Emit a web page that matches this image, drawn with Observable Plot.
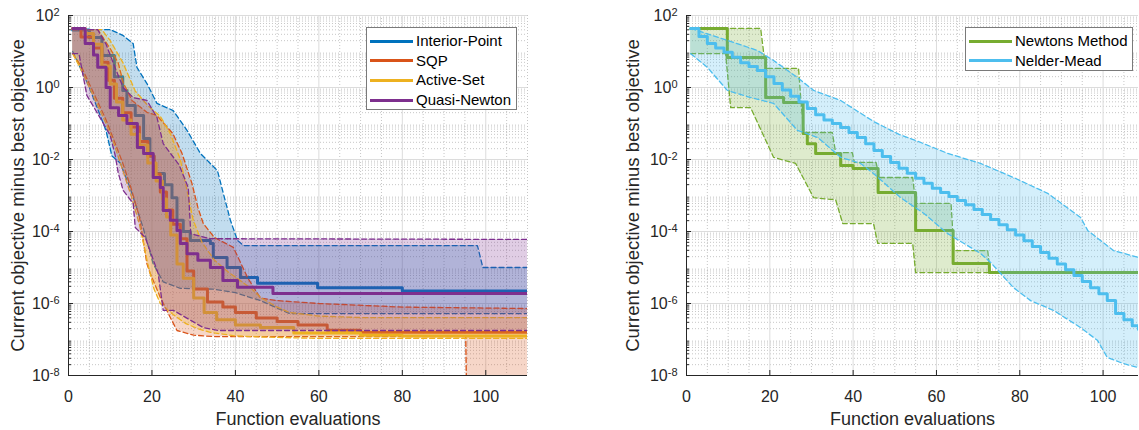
<!DOCTYPE html>
<html><head><meta charset="utf-8">
<script src="https://cdn.jsdelivr.net/npm/d3@7"></script>
<script src="https://cdn.jsdelivr.net/npm/@observablehq/plot@0.6"></script>
<style>
body{margin:0;background:#fff;font-family:"Liberation Sans",Arial,sans-serif;}
#wrap{position:relative;width:1139px;height:430px;overflow:hidden;background:#fff;}
#left,#right{position:absolute;top:0;}
#left{left:0px}
#right{left:570px}
.legend{position:absolute;border:1px solid #7a7a7a;background:#fff;font-size:15px;color:#000;box-sizing:border-box;padding-top:3px;}
.legend .row{height:19.7px;line-height:19.7px;white-space:nowrap;position:relative;padding-left:49px;}
.legend .sw{position:absolute;left:3px;top:8.5px;width:43px;height:3px;}
</style></head><body>
<div id="wrap"><div id="left"></div><div id="right"></div></div>
<script>
// ---------- labels / categories ----------
const namesL = ["Interior-Point", "SQP", "Active-Set", "Quasi-Newton"];
const colorsL = ["#0072BD", "#D95319", "#EDB120", "#7E2F8E"];
const namesR = ["Newtons Method", "Nelder-Mead"];
const colorsR = ["#77AC30", "#4DBEEE"];
const xTicks = [0, 20, 40, 60, 80, 100];
const yTickExp = [-8, -6, -4, -2, 0, 2];
const xLabel = "Function evaluations";
const yLabel = "Current objective minus best objective";

// ---------- data (x = function evaluations, E = log10 of objective gap) ----------
// Interior-Point
const ipMedX = [1, 5, 8, 11, 13, 14, 16, 18, 19.5, 20.5, 23, 24.8, 26, 27.5, 29.2, 34, 34.7, 38, 41.2, 45.3, 59.7, 80, 110];
const ipMedE = [1.6, 1.39, 0.89, 0.3, -0.08, -0.5, -0.78, -1.42, -1.9, -2.39, -2.7, -3.06, -3.69, -4.0, -4.25, -4.33, -4.72, -5.0, -5.28, -5.44, -5.56, -5.65, -5.65];
const ipHiX = [1, 10, 13, 15.5, 16.4, 18.8, 21.2, 25.1, 28.4, 31.6, 35.7, 37.1, 38.8, 40.5, 42, 98, 99.3, 110];
const ipHiE = [1.61, 1.61, 1.45, 1.22, 0.56, 0.11, -0.44, -0.64, -1.19, -1.83, -2.31, -2.94, -3.69, -4.25, -4.39, -4.39, -5.0, -5.0];
const ipLoX = [1, 3, 5, 7, 9, 10.4, 12.4, 14.8, 17.9, 20.3, 22.7, 26.8, 34.7, 40, 46, 53, 60, 110];
const ipLoE = [1.0, 0.5, 0.0, -0.6, -1.2, -1.9, -2.1, -2.8, -3.9, -4.9, -5.4, -5.58, -5.6, -5.7, -5.92, -6.28, -6.28, -6.28];
// SQP
const sqMedX = [1, 3, 6, 8, 9.5, 11, 13, 15, 17, 19, 20.5, 22, 23.5, 25, 26.8, 28.4, 30, 33.3, 37, 40, 45, 50, 55, 62, 70, 110];
const sqMedE = [1.64, 1.4, 1.1, 0.7, 0.2, -0.3, -0.7, -1.1, -1.5, -1.9, -2.4, -2.9, -3.4, -3.8, -4.2, -5.1, -5.6, -5.96, -6.1, -6.25, -6.4, -6.5, -6.6, -6.74, -6.8, -6.8];
const sqHiX = [1, 7, 10, 11.9, 13.1, 15.2, 18.8, 21.2, 25, 27.2, 29.6, 31, 32.3, 35, 39.5, 43, 46, 50, 60, 80, 110];
const sqHiE = [1.61, 1.61, 1.08, 0.69, 0.14, -0.36, -0.69, -0.78, -1.28, -1.83, -2.67, -3.33, -3.78, -4.17, -4.44, -5.3, -5.85, -5.92, -6.0, -6.1, -6.14];
const sqLoX = [1, 3, 5, 7, 9, 11, 13, 15, 17, 18.8, 19.6, 22, 24.4, 26, 30, 35, 95.2, 95.4, 110];
const sqLoE = [0.94, 0.6, 0.1, -0.4, -0.9, -1.5, -2.1, -2.8, -3.6, -4.9, -5.17, -5.83, -6.39, -6.75, -6.88, -6.92, -6.92, -8.5, -8.5];
// Active-Set
const asMedX = [1, 4, 6, 8, 10, 11.5, 13, 15, 17, 19, 21, 22.5, 23.5, 24.5, 26, 27.5, 30, 32.5, 35.5, 40, 46, 54, 70, 80, 110];
const asMedE = [1.64, 1.5, 1.2, 0.6, 0.1, -0.4, -0.9, -1.3, -1.6, -2.1, -2.6, -3.1, -3.6, -4.1, -4.9, -5.3, -5.85, -6.25, -6.45, -6.6, -6.67, -6.82, -6.88, -6.9, -6.9];
const asHiX = [1, 8, 10, 13, 16, 19, 22, 24.4, 26.8, 28.4, 29.9, 32, 35, 38, 41, 44, 46, 50, 53, 60, 70, 110];
const asHiE = [1.61, 1.61, 1.3, 0.7, -0.1, -0.5, -0.8, -1.28, -2.0, -2.86, -3.69, -4.3, -4.8, -5.1, -5.35, -5.6, -5.83, -6.1, -6.25, -6.35, -6.39, -6.39];
const asLoX = [1, 3, 5, 7, 9, 11, 13, 15, 17, 19, 20.5, 22, 25, 28, 31, 34, 37, 40, 46, 60, 110];
const asLoE = [0.94, 0.5, 0.0, -0.5, -1.0, -1.6, -2.3, -3.0, -3.8, -4.9, -5.6, -6.0, -6.3, -6.55, -6.7, -6.8, -6.85, -6.9, -6.93, -6.97, -6.97];
// Quasi-Newton
const qnMedX = [1, 4, 6, 7, 9, 10, 12, 14, 16.5, 18, 20.3, 22, 22.7, 24.4, 26, 26.8, 28.4, 31, 34, 37, 40.5, 49, 110];
const qnMedE = [1.64, 1.22, 0.9, 0.56, 0.0, -0.56, -0.78, -1.0, -1.67, -1.83, -2.5, -2.78, -3.42, -3.69, -3.97, -4.33, -4.62, -4.8, -5.0, -5.36, -5.55, -5.72, -5.72];
const qnHiX = [1, 7, 9, 11, 13.1, 15.5, 18.8, 21.2, 22.7, 26.5, 28.7, 29.3, 34, 110];
const qnHiE = [1.61, 1.61, 1.2, 0.6, 0.0, -0.28, -0.36, -0.83, -1.56, -2.15, -2.78, -4.06, -4.2, -4.22];
const qnLoX = [1, 2.5, 3.5, 4.4, 6.8, 10, 11.2, 11.9, 13.1, 15.5, 16, 18.4, 21.5, 22.7, 25.1, 32.3, 36, 110];
const qnLoE = [0.94, 0.94, 0.33, -0.22, -0.69, -1.33, -1.89, -2.36, -2.86, -3.22, -3.89, -4.17, -5.17, -6.19, -6.19, -6.67, -6.75, -6.75];
// Newtons Method
const ntMedX = [1, 9.8, 19, 23.3, 28, 29, 31, 37, 40, 46, 55, 64, 72.7, 108.5];
const ntMedE = [1.64, 0.83, -0.28, -0.42, -1.28, -1.56, -1.83, -2.17, -2.25, -2.92, -3.97, -4.89, -5.14, -5.14];
const ntHiX = [1, 17.8, 19, 26.9, 27.5, 28.2, 35, 35.8, 39.8, 40.3, 45.5, 46.3, 54.3, 55, 63.5, 64.2, 72.3, 72.9, 108.5];
const ntHiE = [1.64, 1.64, 0.53, 0.53, -0.42, -1.25, -1.25, -1.81, -1.81, -2.08, -2.08, -2.5, -2.5, -3.22, -3.22, -4.53, -4.53, -5.14, -5.14];
const ntLoX = [1, 9.4, 10.6, 15.4, 20.9, 26.2, 30.5, 35.8, 37.5, 44.9, 45.9, 54.3, 55, 108.5];
const ntLoE = [0.94, 0.94, -0.56, -0.56, -1.94, -2.11, -3.06, -3.12, -3.78, -3.78, -4.33, -4.33, -5.14, -5.14];
// Nelder-Mead
const nmMedX = [1, 3, 5, 7, 9, 11, 13, 15, 17, 19, 21, 23, 25, 27, 29, 31, 33, 35, 37, 39, 41, 43, 45, 47, 49, 51, 53, 55, 57, 59, 61, 63, 65, 67, 69, 71, 73, 75, 77, 79, 81, 83, 85, 87, 89, 91, 93, 95, 97, 99, 101, 103, 105, 107, 108.5];
const nmMedE = [1.64, 1.42, 1.22, 1.1, 0.98, 0.84, 0.69, 0.58, 0.47, 0.3, 0.11, -0.07, -0.24, -0.4, -0.58, -0.76, -0.9, -1.0, -1.11, -1.25, -1.39, -1.56, -1.75, -1.92, -2.08, -2.24, -2.38, -2.52, -2.66, -2.8, -2.92, -3.03, -3.14, -3.26, -3.39, -3.53, -3.67, -3.81, -3.95, -4.1, -4.26, -4.42, -4.58, -4.74, -4.9, -5.06, -5.22, -5.39, -5.56, -5.73, -5.92, -6.28, -6.45, -6.62, -6.72];
const nmHiX = [1, 9.8, 17, 20.9, 26.6, 30.5, 37, 45, 51, 55, 62.7, 70.6, 78.5, 86.7, 94.6, 96.3, 102.5, 108.5];
const nmHiE = [1.64, 1.31, 1.03, 0.75, 0.28, -0.08, -0.36, -0.95, -1.3, -1.47, -1.83, -2.11, -2.5, -2.94, -3.61, -3.97, -4.53, -4.72];
const nmLoX = [1, 5, 9.8, 15.4, 20.9, 26.6, 31.5, 37, 41.8, 44.9, 51.4, 57, 62.7, 70.6, 73, 78.5, 82.6, 88.1, 94.6, 98.7, 101, 104.9, 108.5];
const nmLoE = [0.94, 0.56, -0.08, -0.28, -0.44, -1.19, -1.39, -1.94, -2.11, -2.39, -3.06, -3.5, -4.06, -4.61, -4.86, -5.56, -5.92, -6.19, -6.67, -7.03, -7.5, -7.67, -7.78];

// ---------- helpers ----------
const pts = (xs, es) => xs.map((x, i) => ({x, y: Math.pow(10, es[i])}));
function band(loX, loE, hiX, hiE) {
  const n = Math.max(loX.length, hiX.length), out = [];
  for (let i = 0; i < n; i++) {
    const a = Math.min(i, loX.length - 1), b = Math.min(i, hiX.length - 1);
    out.push({x1: loX[a], y1: Math.pow(10, loE[a]), x2: hiX[b], y2: Math.pow(10, hiE[b])});
  }
  return out;
}
function seriesMarks(s) {
  return [
    Plot.area(band(s.loX, s.loE, s.hiX, s.hiE), {x1: "x1", y1: "y1", x2: "x2", y2: "y2", fill: s.color, fillOpacity: 0.24, clip: true}),
    Plot.line(pts(s.loX, s.loE), {x: "x", y: "y", stroke: s.color, strokeWidth: 1.3, strokeDasharray: "5,3", clip: true}),
    Plot.line(pts(s.hiX, s.hiE), {x: "x", y: "y", stroke: s.color, strokeWidth: 1.3, strokeDasharray: "5,3", clip: true}),
    Plot.line(pts(s.medX, s.medE), {x: "x", y: "y", stroke: s.color, strokeWidth: 3, curve: "step-after", clip: true})
  ];
}
const yMajor = yTickExp.map(e => Math.pow(10, e));
const yMinor = [];
for (let k = -8; k < 2; k++) for (let m = 2; m <= 9; m++) yMinor.push(m * Math.pow(10, k));

function panel({width, marginLeft, marginRight, xMax, xMinor, yLabelX, series}) {
  return Plot.plot({
    width, height: 430, marginTop: 15, marginBottom: 55, marginLeft, marginRight,
    x: {domain: [0, xMax]},
    y: {type: "log", domain: [1e-8, 1e2]},
    style: {fontFamily: "'Liberation Sans', Arial, sans-serif", fontSize: "16px", color: "#262626", background: "transparent", overflow: "visible"},
    marks: [
      Plot.gridY(yMinor, {stroke: "#b8b8b8", strokeOpacity: 0.8, strokeDasharray: "1,2"}),
      Plot.gridX(xMinor, {stroke: "#b8b8b8", strokeOpacity: 0.8, strokeDasharray: "1,2"}),
      Plot.gridY(yMajor, {stroke: "#dcdcdc", strokeOpacity: 1}),
      Plot.gridX(xTicks, {stroke: "#dcdcdc", strokeOpacity: 1}),
      ...series.flatMap(seriesMarks),
      Plot.ruleX([0], {stroke: "#262626", strokeWidth: 1}),
      Plot.ruleY([1e-8], {stroke: "#262626", strokeWidth: 1}),
      Plot.axisY(yMajor, {tickSize: -5, stroke: "#262626", fill: "none", label: null, tickFormat: () => ""}),
      Plot.axisY(yMinor, {tickSize: -3, stroke: "#262626", fill: "none", label: null, tickFormat: () => ""}),
      Plot.axisX(xTicks, {tickSize: -5, stroke: "#262626", fill: "none", label: null, tickFormat: () => ""}),
      Plot.axisY(yMajor, {tickSize: 0, tickPadding: 9, fontSize: 16, fill: "#262626", label: null, tickFormat: d => "10^" + Math.round(Math.log10(d))}),
      Plot.axisX(xTicks, {tickSize: 0, tickPadding: 15, fontSize: 16, fill: "#262626", label: null}),
      Plot.text([xLabel], {frameAnchor: "bottom", dy: 44, lineAnchor: "middle", textAnchor: "middle", fontSize: 18, fill: "#262626"}),
      Plot.text([yLabel], {frameAnchor: "left", dx: yLabelX - marginLeft, rotate: -90, lineAnchor: "middle", textAnchor: "middle", fontSize: 18.5, fill: "#262626"})
    ]
  });
}
function supTicks(svg) {
  const NS = "http://www.w3.org/2000/svg";
  svg.querySelectorAll('g[aria-label="y-axis tick label"] text').forEach(t => {
    const s = t.textContent;
    if (!s.includes("^")) return;
    const exp = s.split("^")[1];
    t.textContent = "";
    const a = document.createElementNS(NS, "tspan"); a.textContent = "10";
    const b = document.createElementNS(NS, "tspan"); b.textContent = exp;
    b.setAttribute("dy", "-0.45em"); b.setAttribute("font-size", "11px");
    t.append(a, b);
  });
}

const seriesL = [
  {medX: ipMedX, medE: ipMedE, loX: ipLoX, loE: ipLoE, hiX: ipHiX, hiE: ipHiE, color: colorsL[0]},
  {medX: sqMedX, medE: sqMedE, loX: sqLoX, loE: sqLoE, hiX: sqHiX, hiE: sqHiE, color: colorsL[1]},
  {medX: asMedX, medE: asMedE, loX: asLoX, loE: asLoE, hiX: asHiX, hiE: asHiE, color: colorsL[2]},
  {medX: qnMedX, medE: qnMedE, loX: qnLoX, loE: qnLoE, hiX: qnHiX, hiE: qnHiE, color: colorsL[3]}
];
const seriesR = [
  {medX: ntMedX, medE: ntMedE, loX: ntLoX, loE: ntLoE, hiX: ntHiX, hiE: ntHiE, color: colorsR[0]},
  {medX: nmMedX, medE: nmMedE, loX: nmLoX, loE: nmLoE, hiX: nmHiX, hiE: nmHiE, color: colorsR[1]}
];
const xMinor = [5,10,15,25,30,35,45,50,55,65,70,75,85,90,95,105,110];

const left = panel({width: 570, marginLeft: 68, marginRight: 43, xMax: 110, xMinor, yLabelX: 18, series: seriesL});
const right = panel({width: 569, marginLeft: 116, marginRight: 1, xMax: 108.5, xMinor, yLabelX: 63, series: seriesR});
supTicks(left); supTicks(right);
document.getElementById("left").append(left);
document.getElementById("right").append(right);

function legend(names, colors, x, y, w, h) {
  const d = document.createElement("div");
  d.className = "legend";
  Object.assign(d.style, {left: x + "px", top: y + "px", width: w + "px", height: h + "px"});
  names.forEach((n, i) => {
    const r = document.createElement("div"); r.className = "row";
    const sw = document.createElement("span"); sw.className = "sw"; sw.style.background = colors[i];
    r.append(sw, document.createTextNode(n)); d.append(r);
  });
  document.getElementById("wrap").append(d);
}
legend(namesL, colorsL, 366, 27, 151, 83);
legend(namesR, colorsR, 965, 27, 168, 44);
</script>
</body></html>
